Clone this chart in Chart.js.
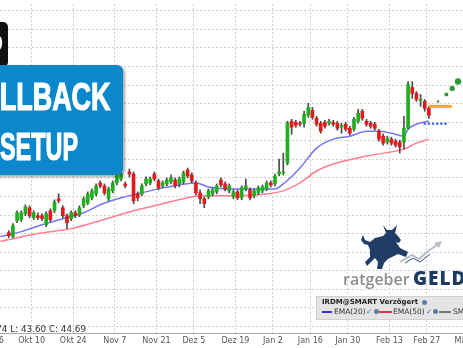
<!DOCTYPE html>
<html>
<head>
<meta charset="utf-8">
<script src="https://cdn.jsdelivr.net/npm/chart.js@4"></script>
<style>
  html, body { margin: 0; padding: 0; background: #fff; }
  #stage { position: relative; width: 463px; height: 348px; overflow: hidden; background: #fff; }
  #c { position: absolute; left: -40px; top: 0; }
  .abs { position: absolute; white-space: nowrap; }
  .big { color: #fff; font: 700 39px 'Liberation Sans', Arial, sans-serif; line-height: 39px; transform-origin: right top; -webkit-text-stroke: 1.2px #fff; }
  .lg { font-family: 'DejaVu Sans', sans-serif; font-size: 7.5px; color: #333; }
</style>
</head>
<body>
<div id="stage">
  <canvas id="c" width="560" height="348"></canvas>

  <!-- setup badge -->
  <div class="abs" style="left:-30px;top:22px;width:38px;height:45px;background:#111;border-radius:5px;"></div>
  <div class="abs" style="right:459.5px;top:26px;color:#fff;font:700 30px 'Liberation Sans',sans-serif;">D</div>
  <div class="abs" style="left:-20px;top:65px;width:143px;height:110px;background:#0b88cb;border-radius:6px;box-shadow:2px 2px 3px rgba(0,0,0,.35);"></div>
  <div class="abs big" style="right:353px;top:77px;transform:scaleX(0.69);">PULLBACK</div>
  <div class="abs big" style="right:385px;top:127px;transform:scaleX(0.6);">SETUP</div>

  <!-- info line -->
  <div class="abs lg" style="right:377px;top:324px;font-size:8.8px;color:#333;">H: 44.74 L: 43.60 C: 44.69</div>

  <!-- logo -->
  <svg class="abs" style="left:0;top:0;" width="463" height="348">
    <path fill="#1f3d66" d="M383,225 L387,230 L392,230 L397,225 L395,233 L398,236 L401,240 L399,243 L396,242 L400,248 L408,252 L406,257 L398,254 L392,257 L388,259 L384,263 L382,269 L377,269 L378,262 L375,258 L371,262 L367,266 L365,262 L370,257 L370,250 L368,245 L364,244 L361,240 L363,235 L365,240 L370,242 L375,238 L383,236 L386,233 Z"/>
    <polyline points="400,262 412,255 419,259 428,251 440,243" fill="none" stroke="#b9bdc3" stroke-width="2"/>
    <polygon points="442,241 434,243 439,248" fill="#b9bdc3"/>
    <polyline points="405,263 413,258 420,262 430,254" fill="none" stroke="#2b4f80" stroke-width="1"/>
  </svg>
  <div class="abs" style="left:343px;top:268px;font:600 16px 'Open Sans',sans-serif;color:#8b8e92;">ratgeber</div>
  <div class="abs" style="left:413px;top:265px;font:800 19px 'Open Sans',sans-serif;color:#1d3a60;letter-spacing:1px;">GELD</div>

  <!-- indicator legend -->
  <div class="abs" style="left:316px;top:296px;width:160px;height:22px;background:#e4e4e4;border:1px solid #d0d0d0;"></div>
  <div class="abs lg" style="left:322px;top:298px;font-weight:700;font-size:7px;color:#222;">IRDM@SMART Verzögert</div>
  <div class="abs" style="left:422px;top:300px;width:5px;height:5px;border-radius:50%;background:#5a7ea8;"></div>
  <div class="abs" style="left:322px;top:311px;width:10px;height:2px;background:#3434d0;"></div>
  <div class="abs lg" style="left:334px;top:307px;">EMA(20)</div>
  <div class="abs lg" style="left:366px;top:307px;color:#3a6ec0;">✓</div>
  <div class="abs" style="left:374px;top:309px;width:5px;height:5px;border-radius:50%;background:#5a7ea8;"></div>
  <div class="abs" style="left:379px;top:311px;width:13px;height:2px;background:#dd3344;"></div>
  <div class="abs lg" style="left:393px;top:307px;">EMA(50)</div>
  <div class="abs lg" style="left:426px;top:307px;color:#3a6ec0;">✓</div>
  <div class="abs" style="left:433px;top:309px;width:5px;height:5px;border-radius:50%;background:#5a7ea8;"></div>
  <div class="abs" style="left:439px;top:311px;width:12px;height:2px;background:#777;"></div>
  <div class="abs lg" style="left:453px;top:307px;">SMA(200)</div>
</div>

<script>
// x axis: trading day index, 0 = first visible candle
const tickPos = [-4.5, 5.5, 15.5, 25.5, 35.5, 44.5, 54.5, 63.5, 72.5, 81.5, 91.5, 100.5, 110.5];
const tickLabels = ['Sep 26', 'Okt 10', 'Okt 24', 'Nov 7', 'Nov 21', 'Dez 5', 'Dez 19', 'Jan 2', 'Jan 16', 'Jan 30', 'Feb 13', 'Feb 27', 'Mär 13'];

const open = [
  45.13, 44.60, 46.74, 46.87, 47.68, 48.48, 47.14, 47.41, 47.41, 46.20,
  48.08, 48.08, 49.69, 48.48, 47.41, 47.01, 47.81, 47.54, 48.75, 49.15,
  49.82, 50.35, 51.83, 51.43, 49.69, 50.76, 51.83, 52.36, 51.69, 53.30,
  53.03, 50.35, 50.35, 51.69, 51.83, 53.03, 52.10, 51.43, 51.69, 51.96,
  52.23, 51.69, 51.96, 53.57, 52.90, 51.83, 50.49, 49.69, 49.95, 50.35,
  50.62, 52.23, 51.69, 50.76, 49.95, 50.62, 49.82, 51.02, 50.89, 50.09,
  50.49, 50.76, 51.02, 51.83, 51.69, 53.03, 53.17, 54.50, 60.13, 59.99,
  59.86, 59.86, 60.93, 61.60, 60.53, 59.86, 59.99, 59.86, 59.99, 59.86,
  59.32, 59.73, 59.19, 59.06, 60.13, 61.47, 60.13, 59.86, 59.73, 58.79,
  58.12, 57.32, 57.72, 57.45, 57.32, 57.32, 59.19, 64.68, 63.88, 62.94,
  62.80, 61.87
];
const high = [
  45.40, 46.34, 48.08, 48.08, 48.88, 48.75, 48.08, 47.81, 47.68, 47.95,
  48.35, 49.55, 50.35, 48.75, 47.68, 48.08, 48.08, 48.75, 49.95, 50.62,
  51.02, 51.69, 52.10, 51.69, 51.29, 52.10, 53.03, 53.30, 51.96, 53.70,
  53.30, 50.62, 51.69, 52.63, 52.63, 53.30, 52.36, 52.10, 52.50, 52.90,
  52.50, 52.63, 53.43, 53.84, 53.17, 52.10, 50.89, 49.95, 51.02, 51.16,
  51.69, 52.50, 51.96, 51.69, 50.89, 50.89, 51.43, 52.36, 51.16, 51.02,
  51.43, 51.56, 52.10, 52.10, 53.03, 55.04, 55.84, 60.13, 60.40, 60.26,
  60.13, 61.47, 62.54, 62.00, 60.80, 60.13, 60.26, 60.40, 60.26, 60.13,
  59.86, 59.99, 59.46, 60.66, 61.73, 61.73, 60.40, 60.13, 59.99, 59.06,
  58.39, 58.12, 57.99, 57.72, 57.58, 60.80, 65.48, 65.48, 64.14, 63.74,
  63.07, 62.14
];
const low = [
  44.46, 44.46, 46.47, 46.61, 47.41, 47.14, 46.87, 46.87, 46.74, 45.94,
  46.61, 47.81, 49.15, 47.14, 45.67, 46.74, 47.14, 47.28, 48.48, 48.88,
  49.55, 50.09, 51.16, 50.22, 49.42, 50.49, 51.56, 52.10, 51.16, 52.63,
  49.02, 49.42, 50.09, 51.43, 51.56, 52.10, 50.89, 51.16, 51.43, 51.69,
  51.16, 51.29, 51.69, 52.50, 51.83, 50.22, 49.02, 48.48, 49.69, 50.09,
  50.35, 51.29, 50.76, 50.49, 49.69, 49.55, 49.55, 50.76, 49.55, 49.82,
  50.22, 50.49, 50.76, 51.29, 51.43, 52.76, 52.90, 54.24, 58.39, 59.32,
  59.46, 59.32, 60.66, 60.39, 59.46, 58.52, 59.19, 59.59, 59.46, 58.92,
  58.52, 58.79, 58.25, 58.79, 59.86, 60.26, 59.46, 59.19, 58.92, 57.45,
  56.91, 57.05, 56.91, 56.65, 55.84, 56.38, 59.06, 63.21, 62.80, 62.14,
  61.47, 60.53
];
const close = [
  44.73, 46.07, 47.81, 47.81, 48.61, 47.41, 47.81, 47.14, 47.01, 47.68,
  46.87, 49.28, 49.42, 47.41, 46.47, 47.81, 47.41, 48.48, 49.69, 50.35,
  50.76, 51.43, 51.43, 50.49, 51.02, 51.83, 52.76, 53.03, 51.43, 53.03,
  49.42, 49.82, 51.43, 52.36, 52.36, 52.36, 51.16, 51.83, 52.23, 52.50,
  51.43, 52.36, 53.17, 52.76, 52.10, 50.49, 49.69, 49.02, 50.76, 50.89,
  51.43, 51.56, 51.02, 51.43, 50.62, 49.82, 51.16, 51.43, 49.82, 50.76,
  51.16, 51.29, 51.83, 51.56, 52.76, 53.30, 53.30, 59.86, 59.32, 59.59,
  59.73, 61.06, 62.00, 60.66, 59.73, 58.79, 59.46, 60.13, 59.73, 59.19,
  59.59, 59.06, 58.52, 60.40, 61.20, 60.53, 59.73, 59.46, 59.19, 57.72,
  57.18, 57.85, 57.18, 56.91, 56.65, 59.19, 65.08, 63.88, 63.07, 63.07,
  61.87, 60.93
];

// moving averages
const ema20Idx = [-2, 3, 8, 13, 18, 22, 27, 32, 37, 41, 45, 48, 54, 60, 64, 66, 70, 74, 78, 82, 86, 89, 92, 95, 96, 98, 101];
const ema20 = [44.60, 45.27, 46.20, 47.01, 47.81, 48.88, 49.82, 50.49, 51.16, 51.56, 51.83, 51.29, 51.02, 51.02, 51.02, 51.69, 53.84, 56.51, 57.72, 58.12, 58.79, 58.79, 58.52, 58.12, 59.06, 59.73, 60.13];
const ema50Idx = [-2, 7, 15, 22, 30, 37, 42, 46, 54, 62, 66, 70, 74, 78, 86, 93, 95, 98, 101];
const ema50 = [43.95, 45.00, 45.67, 46.74, 48.08, 49.02, 49.69, 50.09, 50.09, 50.35, 50.76, 51.83, 53.43, 54.37, 55.44, 56.11, 56.38, 57.18, 57.72];

// drawn setup marks
const resistIdx = [101, 106.5];
const resistVal = [62.14, 62.14];
const supportIdx = [100, 101, 102, 103, 104, 105];
const supportVal = [59.81, 59.81, 59.81, 59.81, 59.81, 59.81];
const targetIdx = [103.2, 105.2, 106.6, 108];
const targetVal = [62.80, 63.74, 64.55, 65.48];

const GREEN = '#1fae1f';
const RED = '#e3191c';
const idx = open.map((_, i) => i);
const pts = (xs, ys) => xs.map((x, i) => ({ x: x, y: ys[i] }));

new Chart(document.getElementById('c'), {
  type: 'bar',
  data: {
    datasets: [
      {
        type: 'line', data: pts(ema20Idx, ema20), borderColor: '#7676f5', borderWidth: 1.5,
        pointRadius: 0, cubicInterpolationMode: 'monotone', order: 6
      },
      {
        type: 'line', data: pts(ema50Idx, ema50), borderColor: '#ff7f8e', borderWidth: 1.5,
        pointRadius: 0, cubicInterpolationMode: 'monotone', order: 6
      },
      {
        data: idx.map(i => ({ x: i, y: [low[i], high[i]] })),
        backgroundColor: '#4a4a4a', barThickness: 1, grouped: false, order: 4
      },
      {
        data: idx.map(i => ({ x: i, y: [open[i], close[i]] })),
        backgroundColor: idx.map(i => close[i] >= open[i] ? GREEN : RED),
        barThickness: 3, grouped: false, order: 3
      },
      {
        type: 'line', data: pts(resistIdx, resistVal), borderColor: '#f6a623', borderWidth: 3,
        pointRadius: 0, order: 1
      },
      {
        type: 'line', data: pts(supportIdx, supportVal), showLine: false,
        pointRadius: 1.3, pointBorderWidth: 0, pointBackgroundColor: '#4a6cf0', order: 1
      },
      {
        type: 'line', data: pts(targetIdx, targetVal), showLine: false,
        pointRadius: [1.2, 2, 2.6, 3.2], pointBorderWidth: 0, pointBackgroundColor: '#2a9a35', order: 1
      }
    ]
  },
  options: {
    responsive: false,
    animation: false,
    devicePixelRatio: 1,
    layout: { padding: { top: 2, left: 0, right: 0, bottom: 0 } },
    plugins: { legend: { display: false }, tooltip: { enabled: false } },
    scales: {
      x: {
        type: 'linear', min: -10.758, max: 121.943, offset: false,
        afterBuildTicks: s => { s.ticks = tickPos.map(v => ({ value: v })); },
        afterFit: s => { s.height = 15; },
        ticks: {
          autoSkip: false, maxRotation: 0, padding: 3, color: '#555',
          font: { family: 'DejaVu Sans', size: 8 },
          callback: (v, i) => tickLabels[i]
        },
        grid: { color: '#cfcfcf', drawTicks: false, offset: false },
        border: { display: true, color: '#a8a8a8', dash: [2, 2] }
      },
      y: {
        position: 'left', min: 31.613, max: 75.924,
        afterFit: s => { s.width = 0; },
        ticks: { display: false, stepSize: 2.5, includeBounds: false },
        grid: { color: '#cfcfcf', drawTicks: false },
        border: { display: false, dash: [2, 2] }
      }
    }
  }
});
</script>
</body>
</html>
